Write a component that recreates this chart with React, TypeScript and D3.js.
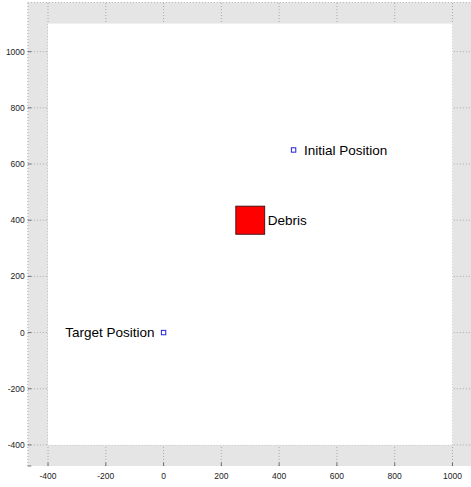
import React from 'react';
import * as d3 from 'd3';

// axis limits and ticks
const xLim = [-470, 1070];
const yLim = [-475, 1175];
const xTicks = [-400, -200, 0, 200, 400, 600, 800, 1000];
const yTicks = [-400, -200, 0, 200, 400, 600, 800, 1000];

// field (white area)
const fieldX = [-400, 1000];
const fieldY = [-400, 1100];

// debris box
const debrisX = [250, 350];
const debrisY = [350, 450];

// positions
const pointNames = ['Initial Position', 'Target Position'];
const pointX = [450, 0];
const pointY = [650, 0];

const width = 471;
const height = 487;

const App: React.FC = () => {
  const x = d3.scaleLinear().domain(xLim).range([27.8, 472.7]);
  const y = d3.scaleLinear().domain(yLim).range([466, 2.5]);

  const font = 'Liberation Sans, Arial, Helvetica, sans-serif';
  const gridColor = '#9a9a9a';

  return (
    <svg
      width={width}
      height={height}
      style={{ position: 'absolute', left: 0, top: 0, background: '#fff' }}
      fontFamily={font}
    >
      {/* axes background */}
      <rect
        x={x(xLim[0])}
        y={y(yLim[1])}
        width={x(xLim[1]) - x(xLim[0])}
        height={y(yLim[0]) - y(yLim[1])}
        fill="#e5e5e5"
      />

      {/* grid */}
      {xTicks.map(t => (
        <line key={'gx' + t} x1={x(t)} x2={x(t)} y1={y(yLim[0])} y2={y(yLim[1])}
          stroke={gridColor} strokeWidth={0.8} strokeDasharray="1,2" />
      ))}
      {yTicks.map(t => (
        <line key={'gy' + t} x1={x(xLim[0])} x2={x(xLim[1])} y1={y(t)} y2={y(t)}
          stroke={gridColor} strokeWidth={0.8} strokeDasharray="1,2" />
      ))}
      {/* top and left box edges */}
      <line x1={x(xLim[0])} x2={x(xLim[1])} y1={y(yLim[1])} y2={y(yLim[1])}
        stroke={gridColor} strokeWidth={0.8} strokeDasharray="1,2" />
      <line x1={x(xLim[0])} x2={x(xLim[0])} y1={y(yLim[0])} y2={y(yLim[1])}
        stroke={gridColor} strokeWidth={0.8} strokeDasharray="1,2" />

      {/* field */}
      <rect
        x={x(fieldX[0])}
        y={y(fieldY[1])}
        width={x(fieldX[1]) - x(fieldX[0])}
        height={y(fieldY[0]) - y(fieldY[1])}
        fill="#ffffff"
      />

      {/* ticks */}
      {yTicks.map(t => (
        <g key={'ty' + t}>
          <line x1={x(xLim[0])} x2={x(xLim[0]) + 3.5} y1={y(t)} y2={y(t)} stroke="#555" strokeWidth={0.8} />
          <text x={x(xLim[0]) - 3} y={y(t)} dy="0.35em" textAnchor="end" fontSize={8.5} fill="#222">{t}</text>
        </g>
      ))}
      {xTicks.map(t => (
        <g key={'tx' + t}>
          <line x1={x(t)} x2={x(t)} y1={y(yLim[0])} y2={y(yLim[0]) - 3.5} stroke="#555" strokeWidth={0.8} />
          <text x={x(t)} y={y(yLim[0]) + 10} dy="0.35em" textAnchor="middle" fontSize={8.5} fill="#222">{t}</text>
        </g>
      ))}
      <line x1={x(xLim[0])} x2={x(xLim[0]) + 3.5} y1={y(yLim[0])} y2={y(yLim[0])} stroke="#555" strokeWidth={0.8} />

      {/* debris */}
      <rect
        x={x(debrisX[0])}
        y={y(debrisY[1])}
        width={x(debrisX[1]) - x(debrisX[0])}
        height={y(debrisY[0]) - y(debrisY[1])}
        fill="#ff0000"
        stroke="#3a1010"
        strokeWidth={0.9}
      />
      <text x={x(debrisX[1]) + 3} y={y((debrisY[0] + debrisY[1]) / 2)} dy="0.35em" fontSize={13.5} fill="#000">Debris</text>

      {/* positions */}
      {pointNames.map((name, i) => (
        <g key={name}>
          <rect x={x(pointX[i]) - 2.2} y={y(pointY[i]) - 2.2} width={4.4} height={4.4}
            fill="none" stroke="#2222dd" strokeWidth={1} />
          <text
            x={i === 0 ? x(pointX[i]) + 10.5 : x(pointX[i]) - 9}
            y={y(pointY[i])}
            dy="0.35em"
            textAnchor={i === 0 ? 'start' : 'end'}
            fontSize={13.5}
            fill="#000"
          >{name}</text>
        </g>
      ))}
    </svg>
  );
};

export default App;
